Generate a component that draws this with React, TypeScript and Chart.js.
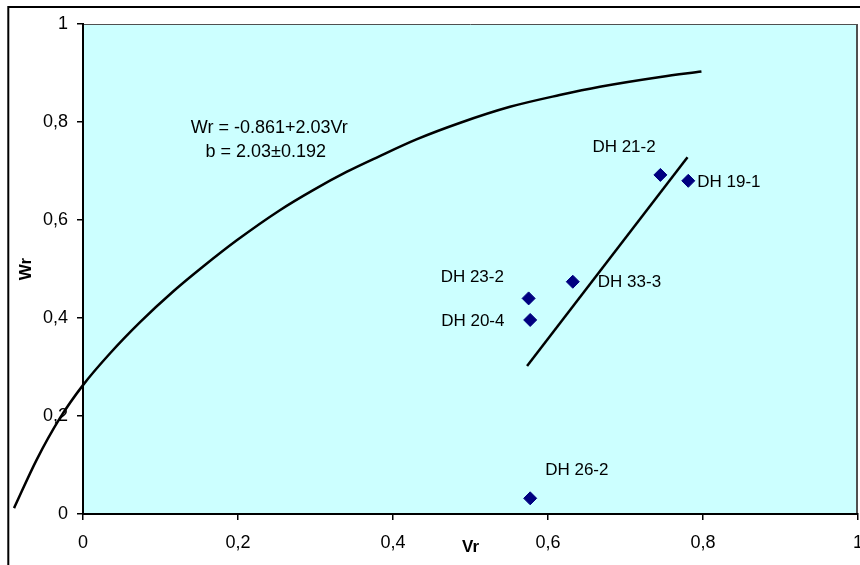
import React, { useEffect, useRef } from 'react';
import { Chart, registerables } from 'chart.js';

Chart.register(...registerables);

// ---- data ----
const pointNames = ['DH 21-2', 'DH 19-1', 'DH 33-3', 'DH 23-2', 'DH 20-4', 'DH 26-2'];
const pointVr = [0.745, 0.781, 0.632, 0.575, 0.577, 0.577];
const pointWr = [0.692, 0.680, 0.474, 0.440, 0.396, 0.032];

const fitVr = [0.573, 0.780];
const fitWr = [0.302, 0.728];

const curveVr = [-0.089, -0.060, -0.030, 0, 0.035, 0.074, 0.117, 0.155, 0.198, 0.254, 0.297, 0.340, 0.381, 0.431, 0.486, 0.551, 0.615, 0.667, 0.745, 0.798];
const curveWr = [0.012, 0.110, 0.195, 0.263, 0.328, 0.392, 0.455, 0.505, 0.558, 0.620, 0.661, 0.698, 0.729, 0.765, 0.798, 0.831, 0.855, 0.872, 0.892, 0.903];

const xTickValues = [0, 0.2, 0.4, 0.6, 0.8, 1];
const xTickLabels = ['0', '0,2', '0,4', '0,6', '0,8', '1'];
const yTickValues = [0, 0.2, 0.4, 0.6, 0.8, 1];
const yTickLabels = ['0', '0,2', '0,4', '0,6', '0,8', '1'];

const equationLines = ['Wr = -0.861+2.03Vr', 'b = 2.03\u00B10.192'];

// ---- label placement (pixel offsets / data anchors), kept apart from data ----
const labelOffsets: [number, number][] = [
  [-68, -28],
  [9, 2],
  [25, 1],
  [-88, -21],
  [-89, 1],
  [15, -28],
];
const equationAnchors: [number, number][] = [
  [0.139, 0.787],
  [0.158, 0.739],
];

const FONT = "'Liberation Sans', Arial, sans-serif";

const decorPlugin = {
  id: 'decor',
  beforeDraw(chart: any) {
    const { ctx, chartArea: a } = chart;
    ctx.save();
    ctx.fillStyle = '#CCFFFF';
    ctx.fillRect(a.left, a.top, a.right - a.left, a.bottom - a.top);
    // outer frame (top & left visible)
    ctx.strokeStyle = '#000';
    ctx.lineWidth = 2;
    ctx.beginPath();
    ctx.moveTo(8.3, chart.height + 2);
    ctx.lineTo(8.3, 7);
    ctx.lineTo(chart.width + 2, 7);
    ctx.stroke();
    // plot border top / right
    ctx.strokeStyle = '#505050';
    ctx.lineWidth = 1;
    ctx.beginPath();
    ctx.moveTo(a.left, a.top + 0.5);
    ctx.lineTo(a.right, a.top + 0.5);
    ctx.stroke();
    ctx.lineWidth = 2;
    ctx.beginPath();
    ctx.moveTo(a.right - 1, a.top);
    ctx.lineTo(a.right - 1, a.bottom);
    ctx.stroke();
    ctx.restore();
  },
  afterDatasetsDraw(chart: any) {
    const { ctx } = chart;
    const xs = chart.scales.x;
    const ys = chart.scales.y;
    ctx.save();
    ctx.fillStyle = '#000';
    ctx.textAlign = 'left';
    ctx.textBaseline = 'middle';
    ctx.font = `17px ${FONT}`;
    pointNames.forEach((name, i) => {
      const px = xs.getPixelForValue(pointVr[i]) + labelOffsets[i][0];
      const py = ys.getPixelForValue(pointWr[i]) + labelOffsets[i][1];
      ctx.fillText(name, px, py);
    });
    ctx.font = `18px ${FONT}`;
    equationLines.forEach((t, i) => {
      ctx.fillText(t, xs.getPixelForValue(equationAnchors[i][0]), ys.getPixelForValue(equationAnchors[i][1]));
    });
    ctx.restore();
  },
};

export default function App() {
  const canvasRef = useRef<HTMLCanvasElement | null>(null);

  useEffect(() => {
    if (!canvasRef.current) return;
    const tickFont = { family: FONT, size: 18 };
    const chart = new Chart(canvasRef.current, {
      type: 'scatter',
      data: {
        datasets: [
          {
            label: 'samples',
            data: pointVr.map((v, i) => ({ x: v, y: pointWr[i] })),
            pointStyle: 'rectRot',
            pointRadius: 6.5,
            pointBorderWidth: 1,
            backgroundColor: '#000080',
            borderColor: '#000080',
            showLine: false,
            order: 0,
          },
          {
            label: 'fit',
            data: fitVr.map((v, i) => ({ x: v, y: fitWr[i] })),
            showLine: true,
            pointRadius: 0,
            borderColor: '#000',
            borderWidth: 2.5,
            order: 1,
          },
          {
            label: 'curve',
            // reversed so the dataset is not treated as sorted (keeps points left of x=0)
            data: curveVr.map((v, i) => ({ x: v, y: curveWr[i] })).reverse(),
            showLine: true,
            pointRadius: 0,
            borderColor: '#000',
            borderWidth: 2.5,
            cubicInterpolationMode: 'monotone',
            capBezierPoints: false,
            clip: false,
            order: 2,
          } as any,
        ],
      },
      options: {
        animation: false,
        responsive: true,
        maintainAspectRatio: false,
        layout: { autoPadding: false, padding: { top: 24, right: 2, left: 0, bottom: 0 } },
        elements: { line: { capBezierPoints: false } },
        plugins: { legend: { display: false }, tooltip: { enabled: false } },
        scales: {
          x: {
            type: 'linear',
            min: 0,
            max: 1,
            afterBuildTicks: (s: any) => {
              s.ticks = xTickValues.map((v) => ({ value: v }));
            },
            ticks: {
              font: tickFont,
              color: '#000',
              padding: 12,
              maxRotation: 0,
              autoSkip: false,
              callback: (_v: any, i: number) => xTickLabels[i],
            },
            grid: { drawOnChartArea: false, drawTicks: true, tickLength: 6, color: '#000', lineWidth: 1.5 },
            border: { display: true, color: '#000', width: 2 },
            title: {
              display: true,
              text: 'Vr',
              color: '#000',
              font: { family: FONT, size: 17, weight: 'bold' },
              padding: { top: 0, bottom: 7 },
            },
            afterFit: (s: any) => {
              s.height = 51;
              s.paddingLeft = 0;
              s.paddingRight = 0;
            },
          },
          y: {
            type: 'linear',
            min: 0,
            max: 1,
            afterBuildTicks: (s: any) => {
              s.ticks = yTickValues.map((v) => ({ value: v }));
            },
            ticks: {
              font: tickFont,
              color: '#000',
              padding: 9,
              autoSkip: false,
              callback: (_v: any, i: number) => yTickLabels[i],
            },
            grid: { drawOnChartArea: false, drawTicks: true, tickLength: 6, color: '#000', lineWidth: 1.5 },
            border: { display: true, color: '#000', width: 2 },
            title: {
              display: true,
              text: 'Wr',
              color: '#000',
              font: { family: FONT, size: 17, weight: 'bold' },
              padding: { top: 16, bottom: 0 },
            },
            afterFit: (s: any) => {
              s.width = 83;
              s.paddingTop = 0;
              s.paddingBottom = 0;
            },
          },
        },
      } as any,
      plugins: [decorPlugin],
    });
    return () => chart.destroy();
  }, []);

  return (
    <div style={{ position: 'fixed', left: 0, top: 0, width: 860, height: 565, background: '#fff' }}>
      <canvas ref={canvasRef} />
    </div>
  );
}
